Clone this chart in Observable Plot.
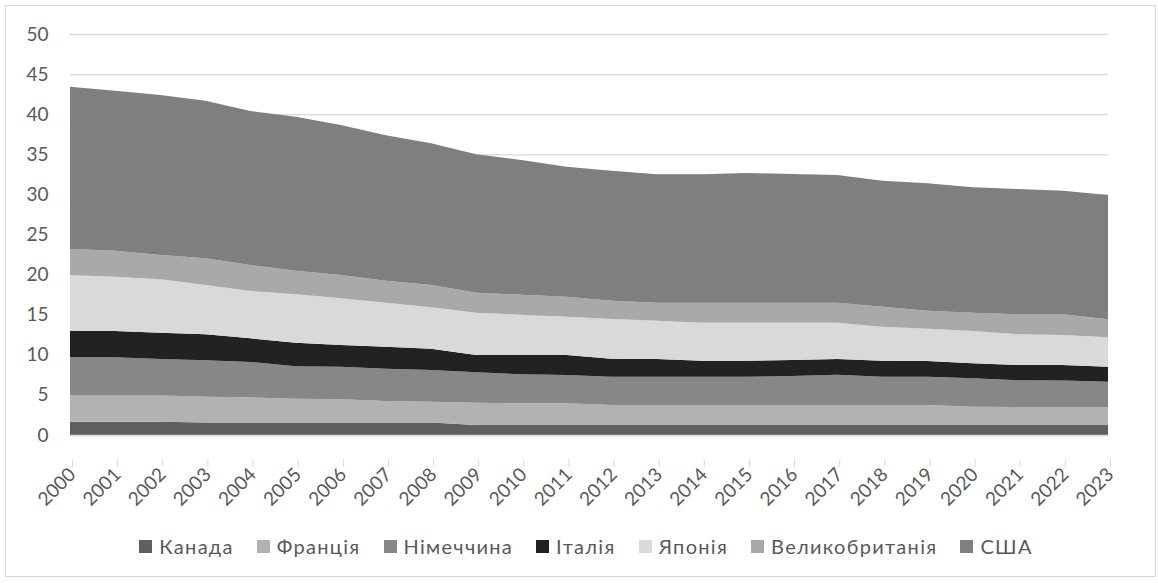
<!DOCTYPE html>
<html>
<head>
<meta charset="utf-8">
<script src="https://cdn.jsdelivr.net/npm/d3@7"></script>
<script src="https://cdn.jsdelivr.net/npm/@observablehq/plot@0.6"></script>
<style>
  html, body { margin: 0; padding: 0; background: #fff; }
  #wrap { position: relative; width: 1158px; height: 583px; overflow: hidden; font-family: Lato, "Open Sans", sans-serif; }
  #frame { position: absolute; left: 5px; top: 5px; width: 1151px; height: 572px; border: 1px solid #d9d9d9; box-sizing: border-box; pointer-events: none; }
  #chart { position: absolute; left: 0; top: 0; }
  #legend { position: absolute; left: 0; top: 534px; width: 1158px; display: flex; justify-content: center; gap: 0 23px; font-size: 20px; color: #595959; letter-spacing: 1.3px; padding-left: 14px; box-sizing: border-box; }
  #legend .item { display: flex; align-items: center; }
  #legend .sw { width: 13px; height: 13px; margin-right: 7px; display: inline-block; }
</style>
</head>
<body>
<div id="wrap">
  <div id="chart"></div>
  <div id="legend"></div>
  <div id="frame"></div>
</div>
<script>
const years = [2000,2001,2002,2003,2004,2005,2006,2007,2008,2009,2010,2011,2012,2013,2014,2015,2016,2017,2018,2019,2020,2021,2022,2023];
const countries = ["Канада","Франція","Німеччина","Італія","Японія","Великобританія","США"];
const colors = ["#5f5f5f","#b2b2b2","#878787","#222222","#d9d9d9","#a9a9a9","#7f7f7f"];
const canada  = [1.65,1.65,1.65,1.55,1.55,1.55,1.55,1.55,1.55,1.25,1.25,1.25,1.25,1.25,1.25,1.25,1.25,1.25,1.25,1.25,1.25,1.25,1.25,1.25];
const france  = [3.30,3.30,3.30,3.23,3.15,2.98,2.90,2.69,2.61,2.78,2.70,2.70,2.49,2.49,2.49,2.49,2.49,2.49,2.49,2.49,2.28,2.24,2.24,2.24];
const germany = [4.74,4.74,4.53,4.53,4.40,4.03,4.07,4.03,3.94,3.78,3.61,3.53,3.53,3.53,3.53,3.53,3.62,3.78,3.53,3.53,3.54,3.33,3.29,3.16];
const italy   = [3.31,3.28,3.28,3.24,2.95,2.95,2.70,2.74,2.66,2.17,2.42,2.50,2.25,2.21,2.00,2.00,1.99,1.96,2.00,1.96,1.87,1.91,1.95,1.87];
const japan   = [6.95,6.77,6.65,6.15,5.91,6.03,5.82,5.47,5.16,5.27,5.02,4.77,4.94,4.77,4.73,4.73,4.65,4.52,4.23,4.03,4.03,3.82,3.74,3.66];
const uk      = [3.24,3.24,3.03,3.33,3.24,2.95,2.91,2.76,2.78,2.49,2.50,2.50,2.29,2.25,2.50,2.50,2.50,2.50,2.50,2.24,2.28,2.50,2.58,2.25];
const usa     = [20.24,19.95,19.95,19.65,19.20,19.20,18.70,18.12,17.67,17.26,16.79,16.21,16.21,16.00,16.00,16.17,16.04,15.92,15.71,15.88,15.63,15.62,15.41,15.50];
const yTicks = [0,5,10,15,20,25,30,35,40,45,50];

const series = [canada, france, germany, italy, japan, uk, usa];
const data = [];
countries.forEach((c, i) => years.forEach((y, j) => data.push({country: c, year: y, value: series[i][j]})));

const plot = Plot.plot({
  width: 1158,
  height: 520,
  marginLeft: 70,
  marginRight: 50,
  marginTop: 34,
  marginBottom: 85,
  style: {fontFamily: "Lato, 'Open Sans', sans-serif", fontSize: "18px", color: "#595959", background: "transparent"},
  x: {domain: [2000, 2023]},
  y: {domain: [0, 50]},
  color: {domain: countries, range: colors},
  marks: [
    Plot.gridY(yTicks, {stroke: "#d9d9d9", strokeOpacity: 1, strokeWidth: 1.3}),
    Plot.areaY(data, {x: "year", y: "value", fill: "country", z: "country", order: countries, curve: "linear"}),
    Plot.ruleY([0], {stroke: "#d9d9d9", strokeWidth: 1.3}),
    Plot.axisY(yTicks, {tickSize: 0, tickPadding: 22, fontSize: 19, fill: "#595959", label: null}),
    Plot.axisX(years, {tickSize: 8, tickRotate: -45, tickPadding: 4, dx: 2, dy: 24, fontSize: 19, fill: "#595959", stroke: "#d9d9d9", strokeOpacity: 1, tickFormat: d => String(d), label: null})
  ]
});
document.getElementById("chart").appendChild(plot);

const legend = document.getElementById("legend");
countries.forEach((c, i) => {
  const it = document.createElement("div");
  it.className = "item";
  const sw = document.createElement("span");
  sw.className = "sw";
  sw.style.background = colors[i];
  it.appendChild(sw);
  it.appendChild(document.createTextNode(c));
  legend.appendChild(it);
});
</script>
</body>
</html>
